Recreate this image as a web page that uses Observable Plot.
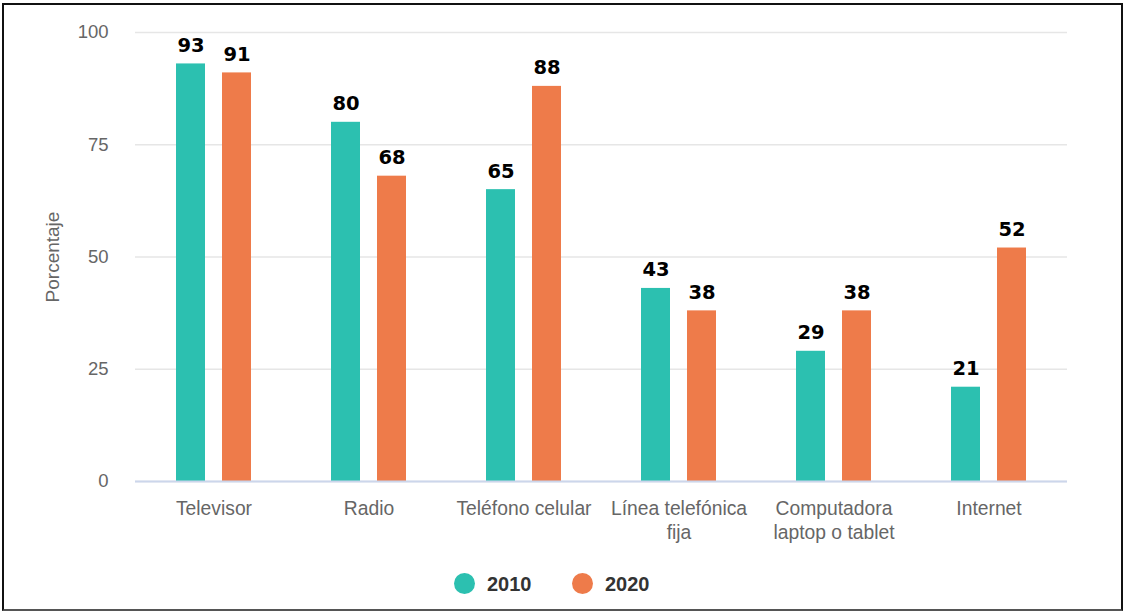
<!DOCTYPE html>
<html>
<head>
<meta charset="utf-8">
<script src="https://cdn.jsdelivr.net/npm/d3@7"></script>
<script src="https://cdn.jsdelivr.net/npm/@observablehq/plot@0.6"></script>
<style>
  html, body { margin: 0; padding: 0; background: #fff; }
  #page { position: relative; width: 1125px; height: 612px; overflow: hidden; background: #fff; }
  #frame { position: absolute; left: 2px; top: 3px; width: 1121px; height: 608px; box-sizing: border-box;
           border: 2px solid #111; border-bottom-color: #555; pointer-events: none; }
  #chart { position: absolute; left: 0; top: 0; }
  .leg { position: absolute; font-family: "Liberation Sans", Arial, sans-serif; font-weight: bold;
         font-size: 20px; color: #333; line-height: 1; }
  .dot { position: absolute; width: 21px; height: 21px; border-radius: 50%; }
</style>
</head>
<body>
<div id="page">
  <div id="chart"></div>
  <div id="legend"></div>
  <div id="frame"></div>
</div>
<script>
const categories = ["Televisor", "Radio", "Teléfono celular", "Línea telefónica fija", "Computadora laptop o tablet", "Internet"];
const tickLabels = ["Televisor", "Radio", "Teléfono celular", "Línea telefónica\nfija", "Computadora\nlaptop o tablet", "Internet"];
const years = ["2010", "2020"];
const values2010 = [93, 80, 65, 43, 29, 21];
const values2020 = [91, 68, 88, 38, 38, 52];
const yTicks = [0, 25, 50, 75, 100];
const colors = ["#2cc0b0", "#ee7b4a"];
const yLabel = "Porcentaje";

const data2010 = categories.map((c, i) => ({category: c, year: years[0], value: values2010[i]}));
const data2020 = categories.map((c, i) => ({category: c, year: years[1], value: values2020[i]}));

const labelStyle = {fontFamily: "DejaVu Sans, Verdana, sans-serif", fontWeight: "bold", fontSize: 19.5, fill: "#000", lineAnchor: "bottom"};

const chart = Plot.plot({
  width: 1125,
  height: 560,
  marginLeft: 135,
  marginRight: 58,
  marginTop: 32,
  marginBottom: 79,
  style: {fontFamily: "Liberation Sans, Arial, sans-serif", fontSize: "18px", color: "#666", background: "transparent"},
  x: {domain: categories, paddingInner: 0.81, paddingOuter: 0.405},
  y: {domain: [0, 100]},
  marks: [
    Plot.gridY(yTicks, {stroke: "#e6e6e6", strokeOpacity: 1, strokeWidth: 1.5}),
    Plot.axisY(yTicks, {tickSize: 0, tickPadding: 27, label: null, fill: "#666", fontSize: 18.5}),
    Plot.barY(data2010, {x: "category", y: "value", fill: colors[0], dx: -23}),
    Plot.barY(data2020, {x: "category", y: "value", fill: colors[1], dx: 23}),
    Plot.ruleY([0], {stroke: "#ccd6eb", strokeWidth: 2}),
    Plot.text(data2010, {x: "category", y: "value", text: d => String(d.value), dx: -23, dy: -12, ...labelStyle}),
    Plot.text(data2020, {x: "category", y: "value", text: d => String(d.value), dx: 23, dy: -12, ...labelStyle}),
    Plot.axisX({tickSize: 0, tickPadding: 17, label: null, fill: "#666", fontSize: 19.3, lineHeight: 1.22,
      tickFormat: d => tickLabels[categories.indexOf(d)]}),
    Plot.text([yLabel], {frameAnchor: "left", rotate: -90, textAnchor: "middle", dx: -83, fill: "#666", fontSize: 19})
  ]
});
document.getElementById("chart").appendChild(chart);

const legend = document.getElementById("legend");
const legendPos = [{dot: 454, text: 487}, {dot: 572, text: 605}];
years.forEach((y, i) => {
  const dot = document.createElement("div");
  dot.className = "dot";
  dot.style.left = legendPos[i].dot + "px";
  dot.style.top = "573px";
  dot.style.background = colors[i];
  legend.appendChild(dot);
  const t = document.createElement("div");
  t.className = "leg";
  t.style.left = legendPos[i].text + "px";
  t.style.top = "574px";
  t.textContent = y;
  legend.appendChild(t);
});
</script>
</body>
</html>
